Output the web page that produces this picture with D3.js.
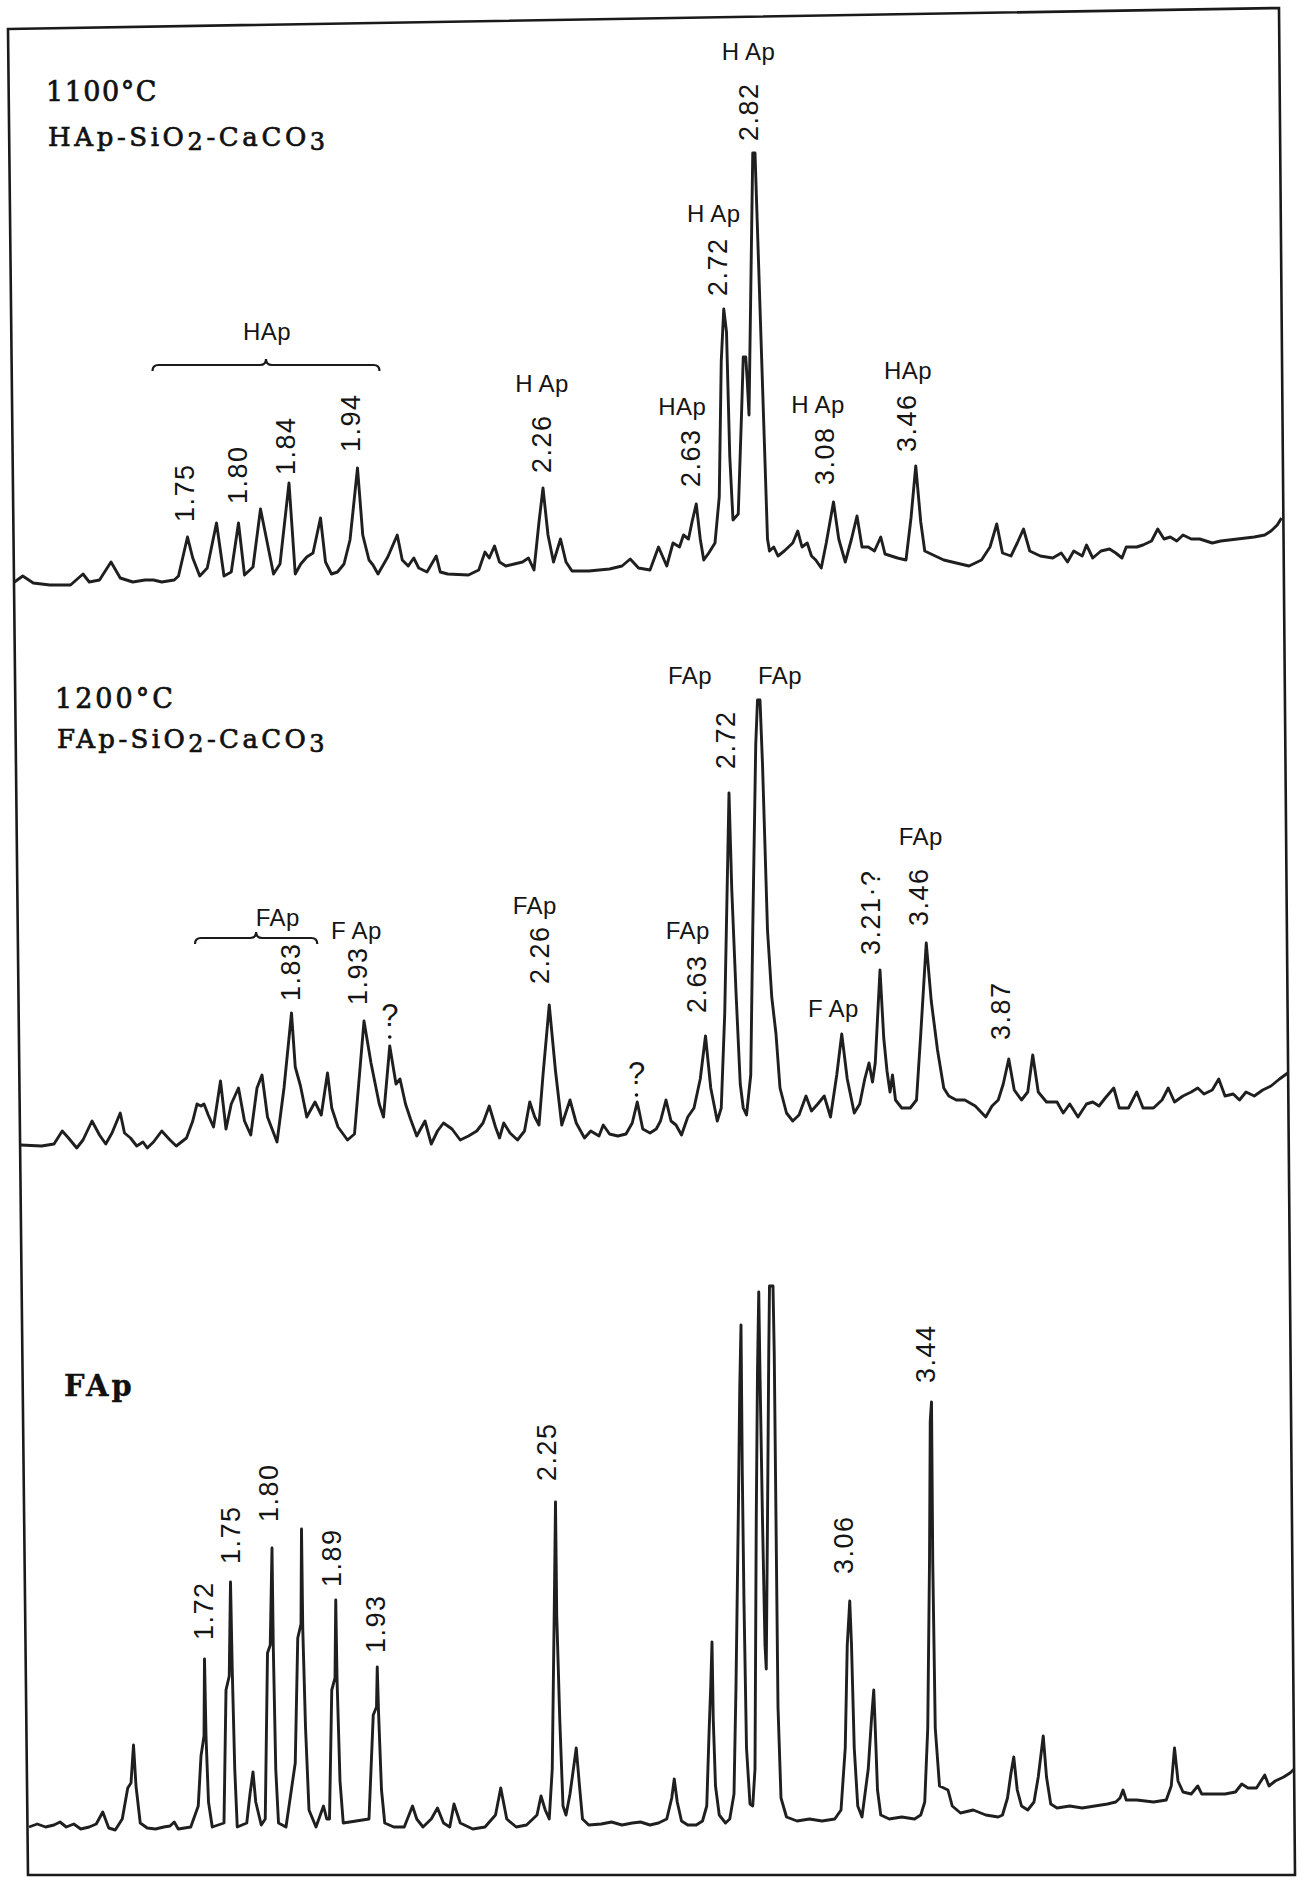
<!DOCTYPE html>
<html>
<head>
<meta charset="utf-8">
<script src="https://cdn.jsdelivr.net/npm/d3@7/dist/d3.min.js"></script>
<style>
  html, body { margin: 0; padding: 0; background: #fff; }
  svg { display: block; }
</style>
</head>
<body>
<div class="graph"></div>
<script>
// XRD traces: [2theta (deg, approx.), intensity (a.u.)]
const trace1100 = [
  [59.42,18],[59.09,24],[58.67,17],[58.01,15],[57.18,15],[56.68,26],[56.43,18],[56.02,20],[55.56,38],[55.19,22],
  [54.69,18],[54.2,20],[53.86,20],[53.53,18],[53.03,20],[52.86,24],[52.50,63],[52.29,42],[52.01,24],[51.71,32],
  [51.34,77],[51.04,24],[50.75,28],[50.46,77],[50.22,25],[49.88,33],[49.58,91],[49.06,26],[48.80,36],[48.44,117],
  [48.19,26],[47.97,36],[47.73,43],[47.48,47],[47.18,82],[46.98,38],[46.74,26],[46.50,28],[46.24,36],[46.00,60],
  [45.70,132],[45.49,65],[45.24,40],[45.08,35],[44.88,26],[44.49,43],[44.11,65],[43.91,40],[43.67,34],[43.45,42],
  [43.25,32],[42.92,28],[42.55,44],[42.39,28],[42.09,26],[41.26,25],[40.85,30],[40.60,48],[40.43,42],[40.22,54],
  [40.02,38],[39.77,34],[39.43,36],[39.10,38],[38.86,42],[38.64,30],[38.44,78],[38.28,112],[38.08,65],[37.86,38],
  [37.58,61],[37.36,38],[37.12,29],[36.45,29],[35.62,31],[35.12,34],[34.79,41],[34.46,32],[34.00,30],
  [33.66,53],[33.33,34],[33.08,57],[32.82,53],[32.66,65],[32.46,61],[32.32,78],[32.15,96],[31.99,61],[31.85,40],
  [31.65,47],[31.40,57],[31.23,103],[31.15,239],[31.05,291],[30.94,268],[30.81,144],[30.68,80],[30.47,86],[30.34,185],
  [30.27,243],[30.17,243],[30.11,219],[30.04,185],[29.89,447],[29.80,447],[29.30,61],[29.22,49],[29.05,53],[28.88,44],
  [28.63,49],[28.29,57],[28.09,69],[27.92,53],[27.71,57],[27.54,44],[27.37,40],[27.15,32],[26.95,57],[26.66,98],
  [26.45,61],[26.19,38],[25.94,61],[25.72,84],[25.52,53],[25.27,53],[25.02,49],[24.77,63],[24.60,46],[24.10,42],
  [23.76,40],[23.56,82],[23.37,134],[23.17,78],[23.01,49],[22.59,44],[22.25,40],[21.58,36],[21.24,34],[20.74,40],
  [20.40,53],[20.13,76],[19.90,47],[19.56,44],[19.31,57],[19.06,71],[18.81,49],[18.39,44],[17.89,42],[17.55,47],
  [17.30,38],[17.05,49],[16.71,44],[16.54,55],[16.29,42],[15.96,49],[15.62,51],[15.37,47],[15.12,42],[14.95,53],
  [14.53,53],[14.28,55],[13.94,59],[13.69,71],[13.44,61],[13.19,63],[12.93,59],[12.68,65],[12.35,61],[12.01,61],
  [11.51,57],[11.17,59],[10.50,61],[9.83,63],[9.41,65],[9.16,69],[8.91,75],[8.74,82]
];

const trace1200 = [
  [59.17,55],[58.34,54],[57.84,56],[57.51,69],[57.26,62],[56.93,52],[56.68,60],[56.32,79],[56.02,65],[55.77,56],
  [55.52,67],[55.19,87],[55.02,67],[54.78,62],[54.53,54],[54.28,58],[54.11,52],[53.86,58],[53.53,69],[53.20,60],
  [52.95,54],[52.54,62],[52.29,79],[52.12,96],[51.96,94],[51.84,96],[51.67,85],[51.46,73],[51.18,119],[50.96,71],
  [50.75,96],[50.46,112],[50.22,79],[49.97,65],[49.72,112],[49.52,125],[49.30,83],[48.92,58],[48.64,112],[48.34,187],
  [48.19,133],[47.98,114],[47.73,83],[47.40,98],[47.15,85],[46.90,127],[46.73,92],[46.48,73],[46.10,60],[45.82,66],
  [45.44,179],[45.16,137],[44.83,96],[44.66,83],[44.41,154],[44.16,116],[44.00,121],[43.78,96],[43.58,81],[43.33,64],
  [43.00,79],[42.75,56],[42.50,69],[42.26,77],[41.92,71],[41.59,60],[41.26,64],[40.93,69],[40.68,77],[40.43,94],
  [40.18,73],[40.02,62],[39.85,77],[39.60,67],[39.30,60],[39.02,69],[38.81,98],[38.61,83],[38.44,75],[38.28,125],
  [38.03,195],[37.78,129],[37.53,75],[37.20,100],[36.95,77],[36.62,62],[36.37,69],[36.04,64],[35.87,75],[35.62,66],
  [35.29,64],[34.96,66],[34.71,77],[34.51,98],[34.29,71],[34.00,67],
  [33.75,71],[33.58,79],[33.36,100],[33.16,79],[32.96,75],[32.74,65],[32.49,83],[32.24,92],[31.99,121],[31.78,164],
  [31.57,112],[31.31,79],[31.15,92],[31.01,187],[30.84,407],[30.73,311],[30.56,208],[30.39,116],[30.27,92],[30.14,85],
  [29.97,125],[29.89,270],[29.77,456],[29.70,500],[29.60,500],[29.50,436],[29.30,270],[29.13,203],[28.96,166],[28.80,112],
  [28.54,87],[28.29,79],[28.04,85],[27.76,104],[27.54,89],[27.29,96],[27.03,104],[26.78,83],[26.53,125],[26.33,166],
  [26.11,121],[25.83,87],[25.61,96],[25.41,121],[25.24,137],[25.10,118],[24.99,137],[24.80,230],[24.65,162],[24.52,129],
  [24.40,108],[24.30,125],[24.18,100],[23.93,92],[23.59,92],[23.34,100],[23.17,166],[22.95,257],[22.75,199],[22.50,150],
  [22.25,112],[22.05,104],[21.75,100],[21.41,100],[20.99,94],[20.57,83],[20.32,94],[20.07,100],[19.87,116],[19.65,141],
  [19.43,110],[19.14,100],[18.89,108],[18.69,145],[18.47,108],[18.14,98],[17.72,98],[17.47,87],[17.21,96],[16.88,83],
  [16.54,96],[16.29,98],[16.04,94],[15.79,102],[15.45,112],[15.23,92],[14.86,92],[14.53,108],[14.28,92],[13.86,92],
  [13.52,100],[13.27,112],[13.02,98],[12.68,104],[12.35,108],[12.09,112],[11.84,106],[11.51,110],[11.25,121],[11.00,104],
  [10.67,106],[10.42,100],[10.16,108],[9.83,104],[9.49,110],[9.16,114],[8.82,121],[8.49,127]
];

const traceFAp = [
  [58.84,53],[58.51,56],[58.18,53],[57.84,55],[57.60,58],[57.35,53],[57.05,56],[56.77,51],[56.43,53],[56.15,56],
  [55.89,68],[55.65,52],[55.39,50],[55.11,61],[54.89,92],[54.76,97],[54.66,135],[54.56,94],[54.39,57],[54.11,52],
  [53.78,51],[53.45,53],[53.20,54],[53.03,58],[52.87,51],[52.37,53],[52.07,74],[51.96,124],[51.84,144],[51.82,221],
  [51.76,144],[51.66,78],[51.51,53],[51.04,57],[50.96,190],[50.83,204],[50.78,298],[50.71,210],[50.61,111],[50.51,53],
  [50.13,57],[50.00,86],[49.88,108],[49.77,78],[49.55,55],[49.39,61],[49.30,227],[49.19,235],[49.12,332],[49.07,235],
  [48.97,111],[48.86,57],[48.56,53],[48.19,117],[48.09,242],[47.96,256],[47.94,351],[47.89,252],[47.78,153],[47.64,70],
  [47.36,53],[47.06,74],[46.93,61],[46.82,61],[46.73,190],[46.60,202],[46.57,280],[46.52,202],[46.40,99],[46.27,57],
  [45.24,61],[45.07,165],[44.94,173],[44.91,213],[44.86,169],[44.74,90],[44.61,57],[44.25,53],[43.83,53],[43.50,74],
  [43.33,61],[43.08,53],[42.75,61],[42.50,72],[42.26,57],[42.01,53],[41.84,76],[41.59,57],[41.09,51],[40.60,53],
  [40.18,65],[39.97,92],[39.73,61],[39.35,53],[38.94,55],[38.52,65],[38.36,84],[38.19,70],[38.03,61],[37.91,111],
  [37.83,269],[37.78,378],[37.73,264],[37.61,161],[37.48,74],[37.36,65],[37.20,86],[36.95,132],[36.82,94],[36.70,61],
  [36.45,55],[35.95,56],[35.54,58],[35.12,55],[34.71,57],[34.38,58],[34.00,55],
  [33.66,57],[33.33,61],[33.13,82],[33.03,101],[32.91,78],[32.74,59],[32.49,55],[32.15,55],[31.90,59],[31.73,74],
  [31.63,153],[31.57,194],[31.52,238],[31.47,161],[31.38,94],[31.23,65],[30.98,57],[30.81,61],[30.64,86],[30.56,194],
  [30.47,360],[30.41,492],[30.36,555],[30.31,410],[30.24,277],[30.14,132],[30.00,76],[29.89,74],[29.80,111],[29.75,360],
  [29.70,509],[29.65,588],[29.60,505],[29.50,360],[29.40,235],[29.35,211],[29.30,360],[29.25,526],[29.22,594],[29.08,594],
  [29.03,526],[28.96,360],[28.88,173],[28.76,82],[28.54,63],[28.12,59],[27.62,61],[27.12,59],[26.61,61],[26.36,70],
  [26.19,132],[26.11,235],[26.01,279],[25.94,235],[25.83,132],[25.69,74],[25.52,63],[25.27,111],[25.14,161],[25.05,190],
  [24.99,152],[24.90,90],[24.77,65],[24.43,61],[23.93,63],[23.42,61],[23.17,65],[23.01,78],[22.89,152],[22.82,318],
  [22.79,459],[22.74,478],[22.69,318],[22.59,152],[22.42,94],[22.25,92],[22.08,90],[21.91,74],[21.58,67],[21.07,70],
  [20.57,65],[20.07,63],[19.90,65],[19.70,82],[19.56,107],[19.45,123],[19.31,90],[19.14,74],[18.89,70],[18.64,78],
  [18.47,103],[18.27,144],[18.14,103],[17.97,76],[17.72,72],[17.21,74],[16.71,72],[16.21,74],[15.70,76],[15.37,78],
  [15.20,82],[15.08,90],[14.95,80],[14.53,80],[13.86,78],[13.35,80],[13.15,94],[13.02,132],[12.88,99],[12.68,88],
  [12.35,86],[12.09,94],[11.93,86],[11.51,86],[11.00,86],[10.58,88],[10.33,96],[10.08,92],[9.74,92],[9.41,105],
  [9.24,94],[8.99,99],[8.65,103],[8.40,107],[8.23,111]
];

// d-spacing labels: [text, 2theta, intensity at the foot of the label]
const peaks1100 = [
  ["1.75",52.62,78],["1.80",50.51,96],["1.84",48.59,125],["1.94",45.99,148],["2.26",38.36,127],
  ["2.63",32.40,113],["2.72",31.32,304],["2.82",30.06,459],["3.08",27.03,115],["3.46",23.73,148]
];
const peaks1200 = [
  ["1.83",48.39,199],["1.93",45.70,195],["2.26",38.44,216],["2.63",32.15,187],["2.72",30.98,431],
  ["3.21\u00b7?",25.19,245],["3.46",23.26,274],["3.87",19.98,160]
];
const peaksFAp = [
  ["1.72",51.87,240],["1.75",50.80,316],["1.80",49.25,358],["1.89",46.73,293],["1.93",44.99,227],
  ["2.25",38.14,399],["3.06",26.28,306],["3.44",23.00,497]
];

// phase labels: [text, 2theta, intensity at baseline]
const phases1100 = [
  ["HAp",49.32,260],["H\u2009Ap",38.32,208],["HAp",32.71,185],["H\u2009Ap",31.45,378],
  ["H\u2009Ap",30.06,540],["H\u2009Ap",27.28,187],["HAp",23.68,221]
];
const phases1200 = [
  ["FAp",48.89,274],["F\u2009Ap",45.74,261],["FAp",38.61,286],["FAp",32.49,261],
  ["FAp",32.40,516],["FAp",28.80,516],["F\u2009Ap",26.66,183],["FAp",23.17,355]
];

// braces grouping peaks: [2theta from, 2theta to, intensity]
const braces1100 = [[53.90,44.82,235]];
const braces1200 = [[52.20,47.31,262]];

// unidentified reflections: [2theta, intensity at "?" baseline]
const unknown1200 = [[44.41,174],[34.54,116]];

const W = 1308, H = 1881;
const svg = d3.select('.graph').append('svg').attr('width', W).attr('height', H);
svg.append('rect').attr('width', W).attr('height', H).attr('fill', '#fff');

// frame (scanned sheet is slightly skewed)
svg.append('path')
  .attr('d', 'M8,29 L1279,8 L1295,1875 L28,1875 Z')
  .attr('fill', 'none').attr('stroke', '#1a1a1a').attr('stroke-width', 2.6);

const x = d3.scaleLinear().domain([60, 8]).range([0, 1300]);

const panels = [
  { trace: trace1100, y0: 600, peaks: peaks1100, phases: phases1100, braces: braces1100, unknown: [] },
  { trace: trace1200, y0: 1200, peaks: peaks1200, phases: phases1200, braces: braces1200, unknown: unknown1200 },
  { trace: traceFAp, y0: 1880, peaks: peaksFAp, phases: [], braces: [], unknown: [] }
];

panels.forEach(p => {
  const y = d3.scaleLinear().domain([0, 600]).range([p.y0, p.y0 - 600]);
  const g = svg.append('g');

  const line = d3.line().x(d => x(d[0])).y(d => y(d[1]));
  g.append('path')
    .datum(p.trace)
    .attr('d', line)
    .attr('fill', 'none')
    .attr('stroke', '#1f1f1f')
    .attr('stroke-width', 2.9)
    .attr('stroke-linejoin', 'round');

  g.selectAll('text.peak')
    .data(p.peaks)
    .enter().append('text')
    .attr('class', 'peak')
    .attr('transform', d => `translate(${x(d[1])},${y(d[2])}) rotate(-90)`)
    .attr('dy', '0.36em')
    .attr('font-family', 'Liberation Sans, Arial, sans-serif')
    .attr('font-size', 27)
    .attr('letter-spacing', 1.5)
    .attr('fill', '#151515')
    .text(d => d[0]);

  g.selectAll('text.phase')
    .data(p.phases)
    .enter().append('text')
    .attr('class', 'phase')
    .attr('x', d => x(d[1]))
    .attr('y', d => y(d[2]))
    .attr('text-anchor', 'middle')
    .attr('font-family', 'Liberation Sans, Arial, sans-serif')
    .attr('font-size', 24)
    .attr('letter-spacing', 0.5)
    .attr('fill', '#151515')
    .text(d => d[0]);

  p.braces.forEach(b => {
    const x1 = x(b[0]), x2 = x(b[1]), yb = y(b[2]), xm = (x1 + x2) / 2;
    const path = d3.path();
    path.moveTo(x1, yb + 6);
    path.quadraticCurveTo(x1, yb, x1 + 6, yb);
    path.lineTo(xm - 6, yb);
    path.quadraticCurveTo(xm, yb, xm, yb - 6);
    path.quadraticCurveTo(xm, yb, xm + 6, yb);
    path.lineTo(x2 - 6, yb);
    path.quadraticCurveTo(x2, yb, x2, yb + 6);
    g.append('path').attr('d', path.toString())
      .attr('fill', 'none').attr('stroke', '#1a1a1a').attr('stroke-width', 2.2);
  });

  p.unknown.forEach(u => {
    g.append('text')
      .attr('x', x(u[0])).attr('y', y(u[1]))
      .attr('text-anchor', 'middle')
      .attr('font-family', 'Liberation Sans, Arial, sans-serif')
      .attr('font-size', 31)
      .attr('fill', '#151515')
      .text('?');
    g.append('circle')
      .attr('cx', x(u[0])).attr('cy', y(u[1]) + 11).attr('r', 1.8)
      .attr('fill', '#151515');
  });
});

// sample captions
function caption(tx, ty, parts, size, opts) {
  const t = svg.append('text')
    .attr('x', tx).attr('y', ty)
    .attr('font-family', 'DejaVu Serif, Liberation Serif, serif')
    .attr('font-size', size)
    .attr('fill', '#111')
    .attr('stroke', '#111')
    .attr('stroke-width', opts.bold ? 0.3 : 0.7);
  if (opts.bold) t.attr('font-weight', 'bold');
  if (opts.spacing) t.attr('letter-spacing', opts.spacing);
  parts.forEach(pt => {
    const s = t.append('tspan').text(pt[0]);
    if (pt[1]) s.attr('dy', pt[1]);
    if (pt[2]) s.attr('font-size', pt[2]);
  });
  return t;
}

caption(46, 101, [["1100\u00b0C"]], 27, { spacing: 1.5 });
caption(48, 146, [["HAp-SiO"], ["2", 4, 24], ["-CaCO", -4], ["3", 4, 24]], 26, { spacing: 3.6 });
caption(55, 708, [["1200\u00b0C"]], 27, { spacing: 3 });
caption(57, 748, [["FAp-SiO"], ["2", 4, 24], ["-CaCO", -4], ["3", 4, 24]], 26, { spacing: 3.4 });
caption(64, 1396, [["FAp"]], 29, { bold: true, spacing: 3 });
</script>
</body>
</html>
